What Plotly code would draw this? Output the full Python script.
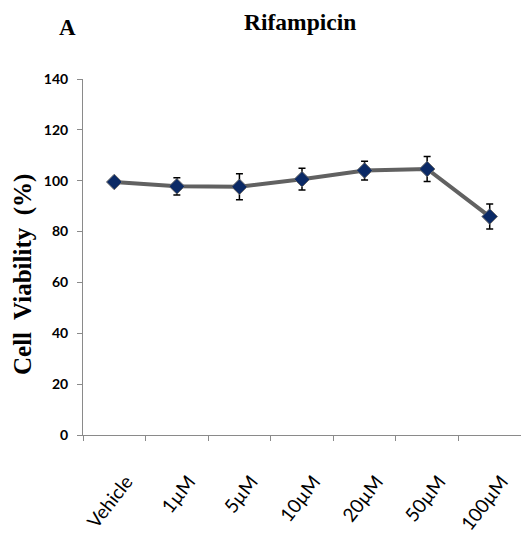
import plotly.graph_objects as go

# Rifampicin dose-response: cell viability (% of vehicle)
doses = ["Vehicle", "1µM", "5µM", "10µM", "20µM", "50µM", "100µM"]
viability = [99.5, 97.8, 97.6, 100.6, 104.0, 104.6, 85.9]
sem = [1.0, 3.4, 5.1, 4.3, 3.7, 4.9, 4.9]
y_ticks = [0, 20, 40, 60, 80, 100, 120, 140]

# plot area in pixels
L, R, T, B = 83, 521, 79, 435

fig = go.Figure()
fig.add_trace(go.Scatter(
    x=doses,
    y=viability,
    mode="lines+markers",
    line=dict(color="#616161", width=4),
    marker=dict(symbol="diamond", size=12, color="#0b2a66",
                line=dict(color="#6a6a6a", width=1)),
    error_y=dict(type="data", array=sem, visible=True,
                 color="black", thickness=1.5, width=3.5),
    showlegend=False,
))


def px_note(text, x, y, size, angle=0):
    return dict(text=text, x=(x - L) / (R - L), y=(B - y) / (B - T),
                xref="paper", yref="paper", xanchor="center", yanchor="middle",
                textangle=angle, showarrow=False,
                font=dict(family="Liberation Serif", size=size, color="black"))


fig.update_layout(
    width=521, height=537,
    margin=dict(l=L, r=521 - R, t=T, b=537 - B),
    plot_bgcolor="white", paper_bgcolor="white",
    annotations=[
        px_note("<b>Rifampicin</b>", 300, 22, 23.5),
        px_note("<b>A</b>", 67, 27, 23),
        px_note("<b>Cell  Viability  (%)</b>", 23, 275, 25, angle=-90),
    ],
)

fig.update_yaxes(
    range=[0, 140], tickvals=y_ticks, showgrid=False, zeroline=False,
    showline=True, linecolor="#8a8a8a", linewidth=1,
    ticks="outside", ticklen=5, tickcolor="#8a8a8a", ticklabelstandoff=6,
    tickfont=dict(family="Lato", size=14, color="black", weight="bold"),
)
fig.update_xaxes(
    range=[-0.5, 6.5], showgrid=False, zeroline=False,
    showline=True, linecolor="#8a8a8a", linewidth=1,
    ticks="outside", ticklen=5, tickcolor="#8a8a8a", tickson="boundaries",
    tickangle=-52, ticklabelstandoff=27, ticklabelshift=12,
    tickfont=dict(family="Lato", size=19, color="black"),
)

fig.write_html("out.html")
